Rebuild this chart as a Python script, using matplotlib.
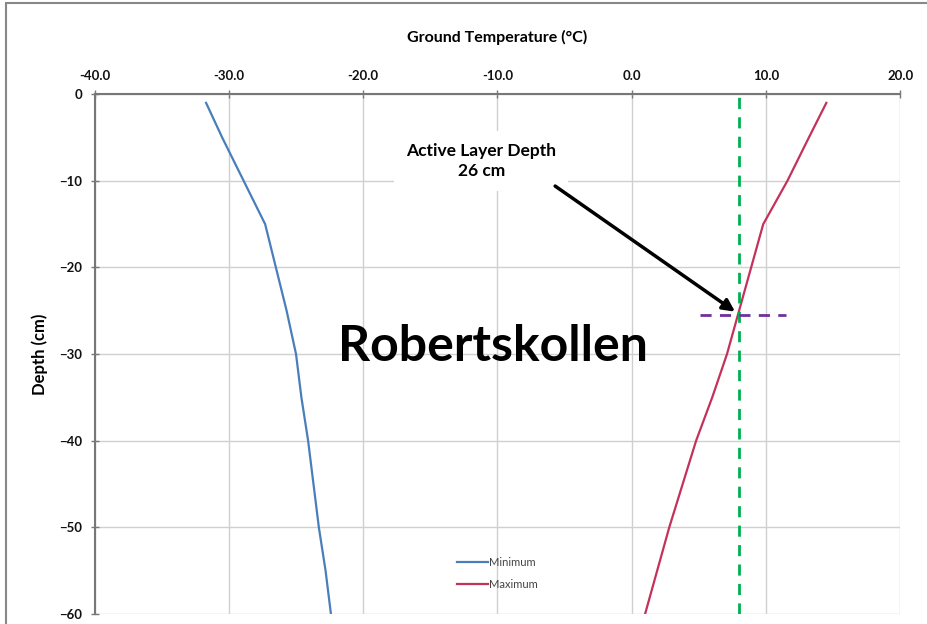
import matplotlib.pyplot as plt
from matplotlib.patches import Rectangle

plt.rcParams["font.family"] = ["Lato", "DejaVu Sans"]

depth = [-1, -5, -10, -15, -20, -25, -30, -35, -40, -45, -50, -55, -60]
t_min = [-31.7, -30.5, -28.9, -27.3, -26.5, -25.7, -25.0, -24.6, -24.1, -23.7, -23.3, -22.8, -22.4]
t_max = [14.5, 13.2, 11.6, 9.8, 8.9, 8.0, 7.1, 6.0, 4.8, 3.8, 2.8, 1.9, 1.0]

active_x = 8.0          # green dashed line
active_depth = -25.5    # purple dashed line
active_span = [5.1, 11.5]
x_ticks = [-40, -30, -20, -10, 0, 10, 20]
y_ticks = [0, -10, -20, -30, -40, -50, -60]

fig = plt.figure(figsize=(9.28, 6.24), dpi=100)
ax = fig.add_axes([0.102, 0.016, 0.868, 0.833])

ax.plot(t_min, depth, color="#4a7ebb", lw=1.6, label="Minimum")
ax.plot(t_max, depth, color="#c3325b", lw=1.6, label="Maximum")
ax.axvline(active_x, color="#00b050", lw=2, ls=(0, (4, 3)))
ax.plot(active_span, [active_depth, active_depth], color="#7030a0", lw=2, ls=(0, (4, 3)))

ax.set_xlim(-40, 20)
ax.set_ylim(-60, 0)
ax.set_xticks(x_ticks)
ax.set_yticks(y_ticks)
ax.set_xticklabels([f"{v:.1f}" for v in x_ticks])
ax.xaxis.tick_top()
ax.xaxis.set_label_position("top")
ax.tick_params(axis="both", labelsize=9.5, direction="inout", length=6, width=1, pad=6,
               colors="#777777", labelcolor="#111111")
for lbl in ax.get_xticklabels() + ax.get_yticklabels():
    lbl.set_fontweight("bold")

ax.grid(True, color="#d0d0d0", lw=1)
ax.set_axisbelow(True)
for s in ["right", "bottom"]:
    ax.spines[s].set_visible(False)
for s in ["top", "left"]:
    ax.spines[s].set_color("#777777")
    ax.spines[s].set_linewidth(1.5)

ax.set_xlabel("Ground Temperature (°C)", fontsize=11.5, fontweight="bold", labelpad=20)
ax.set_ylabel("Depth (cm)", fontsize=12, fontweight="bold", labelpad=8)

ax.text(-11.2, -7.7, "Active Layer Depth\n26 cm", ha="center", va="center",
        fontsize=12.5, fontweight="bold", linespacing=1.3,
        bbox=dict(boxstyle="square,pad=0.7", fc="white", ec="none"))
ax.annotate("", xy=(7.7, -25.1), xytext=(-5.7, -10.6),
            arrowprops=dict(arrowstyle="-|>", color="black", lw=2.5,
                            mutation_scale=18, shrinkA=0, shrinkB=0))

ax.text(-10.3, -29.1, "Robertskollen", ha="center", va="center",
        fontsize=36, fontweight="bold", color="black")

leg = ax.legend(loc="center", bbox_to_anchor=(0.5, 0.078), frameon=False,
                fontsize=8, handlelength=2.8, handletextpad=0.1, labelspacing=1.0)
for t in leg.get_texts():
    t.set_color("#444444")

fig.patches.append(Rectangle((0.006, -0.1), 1.1, 1.095, transform=fig.transFigure,
                             fill=False, ec="#888888", lw=1.5))

fig.savefig("out.png", dpi=100)
